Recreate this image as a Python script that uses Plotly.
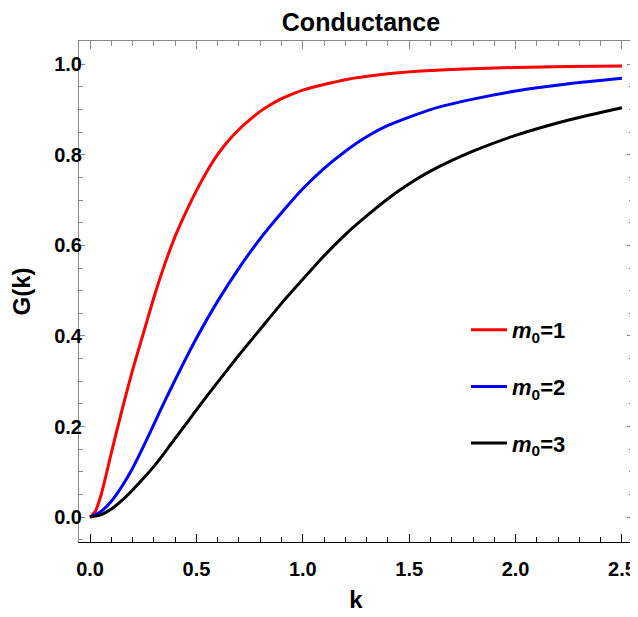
import plotly.graph_objects as go

# ---- data ----
k_m1 = [0, 0.025, 0.05, 0.075, 0.1, 0.15, 0.2, 0.25, 0.3, 0.35, 0.4, 0.45, 0.5,
        0.55, 0.6, 0.65, 0.7, 0.75, 0.8, 0.85, 0.9, 0.95, 1.0, 1.2, 1.4, 1.6,
        1.8, 2.0, 2.25, 2.5]
g_m1 = [0, 0.013, 0.046, 0.092, 0.142, 0.236, 0.325, 0.405, 0.485, 0.557, 0.62,
        0.673, 0.721, 0.764, 0.801, 0.831, 0.856, 0.877, 0.896, 0.911, 0.924,
        0.934, 0.943, 0.966, 0.979, 0.986, 0.990, 0.993, 0.995, 0.996]

k_m2 = [0, 0.05, 0.1, 0.15, 0.2, 0.25, 0.3, 0.35, 0.4, 0.45, 0.5, 0.6, 0.7, 0.8,
        0.9, 1.0, 1.1, 1.2, 1.3, 1.4, 1.6, 1.8, 2.0, 2.25, 2.5]
g_m2 = [0, 0.012, 0.035, 0.068, 0.108, 0.155, 0.205, 0.255, 0.303, 0.35, 0.395,
        0.477, 0.55, 0.615, 0.672, 0.725, 0.77, 0.808, 0.84, 0.865, 0.900,
        0.923, 0.941, 0.957, 0.969]

k_m3 = [0, 0.05, 0.1, 0.15, 0.2, 0.25, 0.3, 0.35, 0.4, 0.45, 0.5, 0.6, 0.7, 0.8,
        0.9, 1.0, 1.1, 1.2, 1.3, 1.4, 1.5, 1.6, 1.8, 2.0, 2.25, 2.5]
g_m3 = [0, 0.005, 0.018, 0.037, 0.06, 0.085, 0.112, 0.142, 0.174, 0.205, 0.237,
        0.298, 0.358, 0.415, 0.472, 0.525, 0.577, 0.624, 0.665, 0.703, 0.736,
        0.764, 0.808, 0.843, 0.877, 0.904]

series_names = ["<i>m</i><sub>0</sub>=1", "<i>m</i><sub>0</sub>=2", "<i>m</i><sub>0</sub>=3"]
series_colors = ["#ff0000", "#0000ff", "#000000"]

x_ticks = [0.0, 0.5, 1.0, 1.5, 2.0, 2.5]
x_ticklabels = ["0.0", "0.5", "1.0", "1.5", "2.0", "2.5"]
y_ticks = [0.0, 0.2, 0.4, 0.6, 0.8, 1.0]
y_ticklabels = ["0.0", "0.2", "0.4", "0.6", "0.8", "1.0"]

X_RANGE = [-0.052, 2.552]
Y_RANGE = [-0.055, 1.0514]

FONT = "Liberation Sans, Arial, sans-serif"
GRAY = "#8a8a8a"

# the page body adds an 8px offset, so the figure is 8px smaller than the window
W, H = 630, 609
ML, MR, MT, MB = 71, 5, 33, 75
PW, PH = W - ML - MR, H - MT - MB

fig = go.Figure()
for name, ks, gs, col in zip(series_names, [k_m1, k_m2, k_m3], [g_m1, g_m2, g_m3], series_colors):
    fig.add_trace(go.Scatter(
        x=ks, y=gs, mode="lines", name=name, legendgroup=name,
        line=dict(color=col, width=3, shape="spline", smoothing=0.6),
    ))

# empty trace so the mirrored (top / right) frame axes get drawn
fig.add_trace(go.Scatter(x=[None], y=[None], xaxis="x2", yaxis="y2",
                         showlegend=False, hoverinfo="skip"))

tickfont = dict(family=FONT, size=20, color="black", weight="bold")
labelfont = dict(family=FONT, size=24, color="black", weight="bold")

fig.update_layout(
    width=W, height=H,
    margin=dict(l=ML, r=MR, t=MT, b=MB, autoexpand=False),
    paper_bgcolor="white", plot_bgcolor="white",
    title=dict(text="Conductance", x=282 / PW, xref="paper", xanchor="center",
               y=1 - 14.5 / H, yref="container", yanchor="middle",
               font=dict(family=FONT, size=25, color="black", weight="bold")),
    xaxis=dict(range=X_RANGE, tickvals=x_ticks, ticktext=x_ticklabels,
               ticks="inside", ticklen=8, tickwidth=1, tickcolor="black",
               showline=True, linecolor="black", linewidth=1,
               showgrid=False, zeroline=False, tickfont=tickfont,
               ticklabelstandoff=9, automargin=False,
               minor=dict(dtick=0.1, tick0=0, ticks="inside", ticklen=5,
                          tickcolor="black", showgrid=False),
               title=dict(text="k", standoff=12, font=labelfont)),
    xaxis2=dict(range=X_RANGE, overlaying="x", side="top", anchor="y2",
                tickvals=x_ticks, showticklabels=False, automargin=False,
                ticks="inside", ticklen=8, tickwidth=1, tickcolor=GRAY,
                showline=True, linecolor=GRAY, linewidth=1,
                showgrid=False, zeroline=False,
                minor=dict(dtick=0.1, tick0=0, ticks="inside", ticklen=5,
                           tickcolor=GRAY, showgrid=False)),
    yaxis=dict(range=Y_RANGE, tickvals=y_ticks, ticktext=y_ticklabels,
               ticks="inside", ticklen=6, tickwidth=1, tickcolor=GRAY,
               showline=True, linecolor=GRAY, linewidth=1,
               showgrid=False, zeroline=False, tickfont=tickfont,
               ticklabelstandoff=-8, automargin=False,
               minor=dict(dtick=0.05, tick0=0, ticks="inside", ticklen=4,
                          tickcolor=GRAY, showgrid=False),
               title=dict(text="G(k)", standoff=16, font=labelfont)),
    yaxis2=dict(range=Y_RANGE, overlaying="y", side="right", anchor="x2",
                tickvals=y_ticks, showticklabels=False, automargin=False,
                ticks="inside", ticklen=6, tickwidth=1, tickcolor=GRAY,
                showline=True, linecolor=GRAY, linewidth=1,
                showgrid=False, zeroline=False,
                minor=dict(dtick=0.05, tick0=0, ticks="inside", ticklen=4,
                           tickcolor=GRAY, showgrid=False)),
    legend=dict(x=(466 - 79) / PW, xanchor="left", y=(542 - 309) / PH, yanchor="top",
                traceorder="grouped", tracegroupgap=25, itemwidth=36,
                bgcolor="rgba(0,0,0,0)", borderwidth=0,
                font=dict(family=FONT, size=22, color="black", weight="bold")),
    showlegend=True,
)

fig.write_html("out.html")
